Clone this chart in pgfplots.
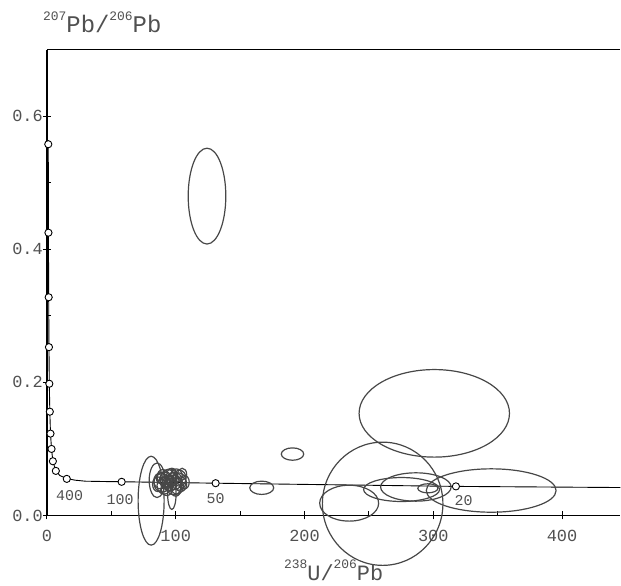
\documentclass[border=0pt]{standalone}
\usepackage{fontspec}
\setmainfont{Liberation Mono}
\usepackage{pgfplots}
\pgfplotsset{compat=1.18}
\usepackage{pgfplotstable}
\definecolor{ellc}{HTML}{474747}
\definecolor{txtc}{HTML}{505050}
\pgfdeclareplotmark{empty}{}
\newcommand{\sups}[1]{\raisebox{12bp}{\fontsize{13}{13}\selectfont #1}}

\pgfplotstableread{
x y rx ry rot
124.3 0.480 14.6 0.0720 0
190.7 0.0923 8.7 0.0093 0
166.8 0.0416 9.3 0.0100 0
300.8 0.1535 58.4 0.0658 0
260.7 0.0176 46.8 0.0926 0
345.0 0.0375 50.4 0.0326 0
234.7 0.0185 22.9 0.0270 0
275.4 0.0390 29.5 0.0180 5
286.5 0.0428 27.4 0.0213 3
295.8 0.0408 7.8 0.0068 0
80.9 0.0222 10.1 0.0668 0
85.5 0.0529 6.1 0.0260 0
97.0 0.0330 3.3 0.0240 0
88.0 0.0520 5.0 0.0120 0
91.0 0.0450 5.5 0.0130 0
94.0 0.0550 6.0 0.0140 0
96.0 0.0480 5.0 0.0110 0
99.0 0.0520 6.0 0.0130 0
101.0 0.0440 5.0 0.0120 0
103.0 0.0560 5.0 0.0120 0
90.0 0.0580 4.5 0.0110 0
97.0 0.0610 4.0 0.0100 0
105.0 0.0620 3.5 0.0090 0
86.0 0.0470 4.0 0.0110 0
93.0 0.0400 4.5 0.0100 0
100.0 0.0390 4.0 0.0100 0
107.0 0.0500 3.5 0.0100 0
95.0 0.0520 3.0 0.0080 0
92.0 0.0500 4.0 0.0090 0
89.5 0.0490 6.5 0.0140 0
95.5 0.0580 5.5 0.0120 0
98.5 0.0460 6.5 0.0150 0
102.5 0.0510 5.5 0.0130 0
92.5 0.0540 5.0 0.0110 0
97.5 0.0540 4.5 0.0100 0
104.0 0.0470 4.5 0.0110 0
100.5 0.0600 4.5 0.0100 0
94.5 0.0450 3.5 0.0090 0
88.5 0.0560 3.5 0.0090 0
}\ellipses

\pgfplotstableread{
x y
1.02 0.557
1.16 0.425
1.34 0.327
1.56 0.253
1.84 0.198
2.22 0.156
2.75 0.123
3.55 0.100
4.6 0.0815
6.9 0.067
10 0.060
15.4 0.0555
22 0.053
30 0.0515
45 0.0510
58 0.0507
131 0.0485
200 0.0467
317.6 0.0437
445.3 0.0420
}\concordia

\pgfplotstableread{
x y
1.02 0.558
1.16 0.425
1.34 0.328
1.56 0.253
1.84 0.198
2.22 0.156
2.75 0.123
3.55 0.100
4.6 0.0815
6.9 0.067
15.4 0.055
58 0.0506
131 0.0485
317.6 0.0437
}\markers

\begin{document}
\begin{tikzpicture}
\path (-47bp,-70bp) rectangle (574bp,516bp);
\begin{axis}[
  at={(0,0)}, anchor=south west,
  x=1.289bp, y=666bp,
  xmin=0, xmax=445.3, ymin=0, ymax=0.7,
  clip=false,
  separate axis lines,
  axis x line*=box, axis y line*=left,
  x axis line style={line width=1.3bp},
  y axis line style={line width=2.4bp},
  tick pos=left,
  tick align=center,
  major tick length=8bp,
  tick style={black, line width=1bp},
  xtick={0,100,200,300,400},
  xticklabels={0,100,200,300,400},
  ytick={0,0.2,0.4,0.6},
  yticklabels={0.0,0.2,0.4,0.6},
  extra x ticks={50,150,250,350},
  extra x tick labels={},
  extra x tick style={tick align=inside, major tick length=4bp},
  extra y ticks={0.1,0.3,0.5},
  extra y tick labels={},
  extra y tick style={tick align=inside, major tick length=4bp},
  /pgf/number format/assume math mode=true,
  ticklabel style={font=\fontsize{17}{17}\selectfont, text=txtc},
  yticklabel style={inner xsep=0pt, xshift=0bp},
  xticklabel style={inner ysep=0pt, yshift=-11bp},
  xlabel={\sups{238}{\fontsize{22}{22}\selectfont U/}\sups{206}{\fontsize{22}{22}\selectfont Pb}},
  xlabel style={at={(axis description cs:0.5,0)}, anchor=base, yshift=-65bp, text=txtc, inner sep=0pt},
  ylabel={\sups{207}{\fontsize{24}{24}\selectfont Pb/}\sups{206}{\fontsize{24}{24}\selectfont Pb}},
  ylabel style={at={(axis description cs:0,1)}, rotate=-90, anchor=base west, xshift=-4bp, yshift=17bp, text=txtc, inner sep=0pt},
]
\addplot[only marks, scatter, mark=empty,
  visualization depends on={\thisrow{rx} \as \rx},
  visualization depends on={\thisrow{ry} \as \ry},
  visualization depends on={\thisrow{rot} \as \rot},
  scatter/@pre marker code/.code={\draw[ellc, line width=1.2bp, rotate=\rot] (0,0) ellipse [x radius={\rx*1.289bp}, y radius={\ry*666bp}];},
  scatter/@post marker code/.code={}
] table {\ellipses};
\addplot[black, line width=0.9bp, mark=none] table {\concordia};
\addplot[only marks, mark=*, mark size=3.6bp, mark options={fill=white, draw=black, line width=0.9bp}] table {\markers};
\node[font=\fontsize{15}{15}\selectfont, text=txtc] at (axis cs:17.6,0.030) {400};
\node[font=\fontsize{15}{15}\selectfont, text=txtc] at (axis cs:56.8,0.0236) {100};
\node[font=\fontsize{15}{15}\selectfont, text=txtc] at (axis cs:131,0.026) {50};
\node[font=\fontsize{15}{15}\selectfont, text=txtc] at (axis cs:323.6,0.0221) {20};
\end{axis}
\end{tikzpicture}
\end{document}
